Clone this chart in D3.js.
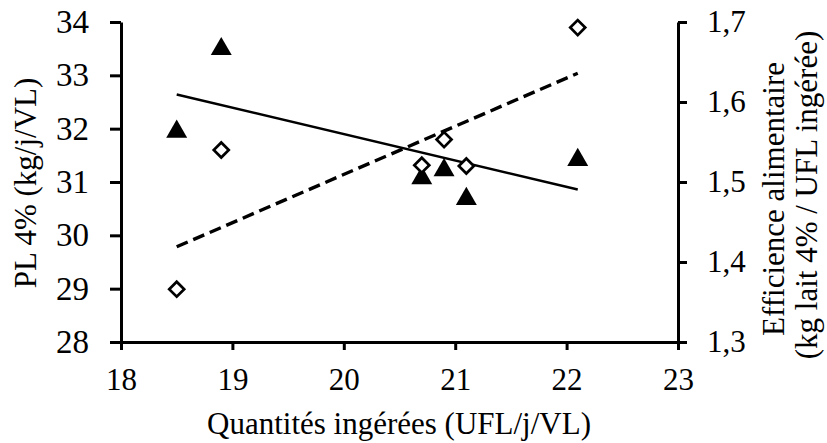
<!DOCTYPE html>
<html>
<head>
<meta charset="utf-8">
<script src="https://cdn.jsdelivr.net/npm/d3@7"></script>
<style>
  body { margin: 0; background: #fff; }
  svg { display: block; }
</style>
</head>
<body>
<svg id="chart"></svg>
<script>
'use strict';

// ingested quantities (UFL/j/VL)
const intake = [18.5, 18.9, 20.7, 20.9, 21.1, 22.1];
// PL 4% (kg/j/VL) - filled triangles, left axis
const milk = [32.0, 33.55, 31.13, 31.28, 30.74, 31.47];
// feed efficiency - open diamonds, right axis
const efficiency = [1.366, 1.54, 1.521, 1.553, 1.520, 1.693];

// trend lines (ends at x = 18.5 and 22.1)
const trendX = [18.5, 22.1];
const milkTrend = [32.64, 30.86];
const effTrend = [1.419, 1.636];

const xTicks = [18, 19, 20, 21, 22, 23];
const leftTicks = [28, 29, 30, 31, 32, 33, 34];
const rightTicks = [1.3, 1.4, 1.5, 1.6, 1.7];

const FONT = '"Liberation Serif", "Times New Roman", serif';
const W = 827, H = 443;
const margin = { top: 22, left: 121, right: 149, bottom: 101 };
const width = W - margin.left - margin.right;
const height = H - margin.top - margin.bottom;

const svg = d3.select('#chart')
  .attr('width', W)
  .attr('height', H)
  .style('font-family', FONT);

const graph = svg.append('g')
  .attr('transform', `translate(${margin.left}, ${margin.top})`);

const x = d3.scaleLinear().domain([18, 23]).range([0, width]);
const yL = d3.scaleLinear().domain([28, 34]).range([height, 0]);
const yR = d3.scaleLinear().domain([1.3, 1.7]).range([height, 0]);

const xAxis = d3.axisBottom(x).tickValues(xTicks).tickSize(8).tickPadding(18).tickSizeOuter(0)
        .tickFormat(d3.format('d')),
      leftAxis = d3.axisLeft(yL).tickValues(leftTicks).tickSize(11).tickPadding(21).tickSizeOuter(0)
        .tickFormat(d3.format('d')),
      rightAxis = d3.axisRight(yR).tickValues(rightTicks).tickSize(9).tickPadding(20).tickSizeOuter(0)
        .tickFormat(d => d3.format('.1f')(d).replace('.', ','));

function styleAxis(g, size) {
  g.attr('font-family', null).attr('font-size', null);
  g.select('.domain').attr('stroke', '#000').attr('stroke-width', 3);
  g.selectAll('.tick line').attr('stroke', '#000').attr('stroke-width', 3);
  g.selectAll('.tick text')
    .style('font-family', FONT)
    .style('font-size', size + 'px')
    .attr('fill', '#000');
}

graph.append('g')
  .attr('class', 'x-axis')
  .attr('transform', `translate(0, ${height})`)
  .call(xAxis)
  .call(styleAxis, 31);

graph.append('g')
  .attr('class', 'y-axis')
  .call(leftAxis)
  .call(styleAxis, 33);

graph.append('g')
  .attr('class', 'y-axis-right')
  .attr('transform', `translate(${width}, 0)`)
  .call(rightAxis)
  .call(styleAxis, 31);

// trend lines
graph.append('line')
  .attr('x1', x(trendX[0])).attr('y1', yL(milkTrend[0]))
  .attr('x2', x(trendX[1])).attr('y2', yL(milkTrend[1]))
  .attr('stroke', '#000').attr('stroke-width', 2.4);

graph.append('line')
  .attr('x1', x(trendX[0])).attr('y1', yR(effTrend[0]))
  .attr('x2', x(trendX[1])).attr('y2', yR(effTrend[1]))
  .attr('stroke', '#000').attr('stroke-width', 3.4)
  .attr('stroke-dasharray', '12,6');

// triangles (shifted so the box, not the centroid, sits on the value)
const triSize = 190;
const triH = Math.sqrt(triSize * 4 / Math.sqrt(3)) * Math.sqrt(3) / 2;
const tri = d3.symbol().type(d3.symbolTriangle).size(triSize);
graph.append('g')
  .selectAll('path')
  .data(intake.map((d, i) => ({ x: d, y: milk[i] })))
  .enter().append('path')
  .attr('d', tri)
  .attr('transform', d => `translate(${x(d.x)}, ${yL(d.y) + triH / 6})`)
  .attr('fill', '#000');

// diamonds
const dia = d3.symbol().type(d3.symbolSquare).size(112);
graph.append('g')
  .selectAll('path')
  .data(intake.map((d, i) => ({ x: d, y: efficiency[i] })))
  .enter().append('path')
  .attr('d', dia)
  .attr('transform', d => `translate(${x(d.x)}, ${yR(d.y)}) rotate(45)`)
  .attr('fill', '#fff')
  .attr('stroke', '#000')
  .attr('stroke-width', 2.7);

// axis titles
svg.append('text')
  .attr('x', 399)
  .attr('y', 434)
  .attr('text-anchor', 'middle')
  .style('font-size', '31px')
  .text('Quantités ingérées (UFL/j/VL)');

svg.append('text')
  .attr('transform', 'translate(36, 183) rotate(-90)')
  .attr('text-anchor', 'middle')
  .style('font-size', '31px')
  .text('PL 4% (kg/j/VL)');

svg.append('text')
  .attr('transform', 'translate(784, 199) rotate(-90)')
  .attr('text-anchor', 'middle')
  .style('font-size', '31px')
  .text('Efficience alimentaire');

svg.append('text')
  .attr('transform', 'translate(817, 195) rotate(-90)')
  .attr('text-anchor', 'middle')
  .style('font-size', '31px')
  .text('(kg lait 4% / UFL ingérée)');
</script>
</body>
</html>
